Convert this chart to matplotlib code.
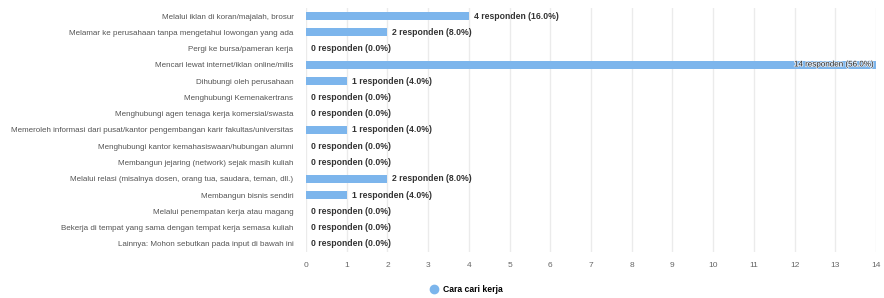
import matplotlib.pyplot as plt
import matplotlib.patheffects as pe

# data
categories = [
    "Melalui iklan di koran/majalah, brosur",
    "Melamar ke perusahaan tanpa mengetahui lowongan yang ada",
    "Pergi ke bursa/pameran kerja",
    "Mencari lewat internet/iklan online/milis",
    "Dihubungi oleh perusahaan",
    "Menghubungi Kemenakertrans",
    "Menghubungi agen tenaga kerja komersial/swasta",
    "Memeroleh informasi dari pusat/kantor pengembangan karir fakultas/universitas",
    "Menghubungi kantor kemahasiswaan/hubungan alumni",
    "Membangun jejaring (network) sejak masih kuliah",
    "Melalui relasi (misalnya dosen, orang tua, saudara, teman, dll.)",
    "Membangun bisnis sendiri",
    "Melalui penempatan kerja atau magang",
    "Bekerja di tempat yang sama dengan tempat kerja semasa kuliah",
    "Lainnya: Mohon sebutkan pada input di bawah ini",
]
counts = [4, 2, 0, 14, 1, 0, 0, 1, 0, 0, 2, 1, 0, 0, 0]
percents = [16.0, 8.0, 0.0, 56.0, 4.0, 0.0, 0.0, 4.0, 0.0, 0.0, 8.0, 4.0, 0.0, 0.0, 0.0]
series_name = "Cara cari kerja"
x_ticks = list(range(0, 15))

plt.rcParams['font.family'] = ['Liberation Sans', 'DejaVu Sans']

fig = plt.figure(figsize=(8.84, 2.98), dpi=100)
ax = fig.add_axes([306 / 884, 1 - 252 / 298, 570 / 884, 244 / 298])

ypos = list(range(len(categories)))
ax.barh(ypos, counts, height=0.5, color='#7cb5ec', label=series_name, zorder=2)

for y, c, p in zip(ypos, counts, percents):
    txt = f"{c} responden ({p:.1f}%)"
    if c >= 13:
        # label that does not fit outside goes inside the bar end
        ax.text(c - 0.06, y, txt, ha='right', va='center', fontsize=5.8,
                color='#222222', zorder=3,
                path_effects=[pe.withStroke(linewidth=1.0, foreground='#e8f1fb')])
    else:
        ax.text(c + 0.12, y, txt, ha='left', va='center', fontsize=6.2,
                fontweight='bold', color='#333333', zorder=3)

ax.set_xlim(0, 14)
ax.set_ylim(len(categories) - 0.5, -0.5)
ax.set_xticks(x_ticks)
ax.set_yticks(ypos)
ax.set_yticklabels(categories, fontsize=5.8, color='#555555')
ax.tick_params(axis='y', length=0, pad=9)
ax.tick_params(axis='x', length=0, pad=7, labelsize=6, labelcolor='#666666')
ax.grid(axis='x', color='#ebebeb', linewidth=1, zorder=0)
for s in ax.spines.values():
    s.set_visible(False)

fig.legend(handles=[plt.Line2D([], [], marker='o', linestyle='', color='#7cb5ec',
                               markersize=6)],
           labels=[series_name], loc='center', bbox_to_anchor=(464 / 884, 1 - 290 / 298),
           frameon=False, handletextpad=0.1, borderaxespad=0,
           prop={'weight': 'bold', 'size': 6.2})

fig.savefig('out.png', dpi=100)
